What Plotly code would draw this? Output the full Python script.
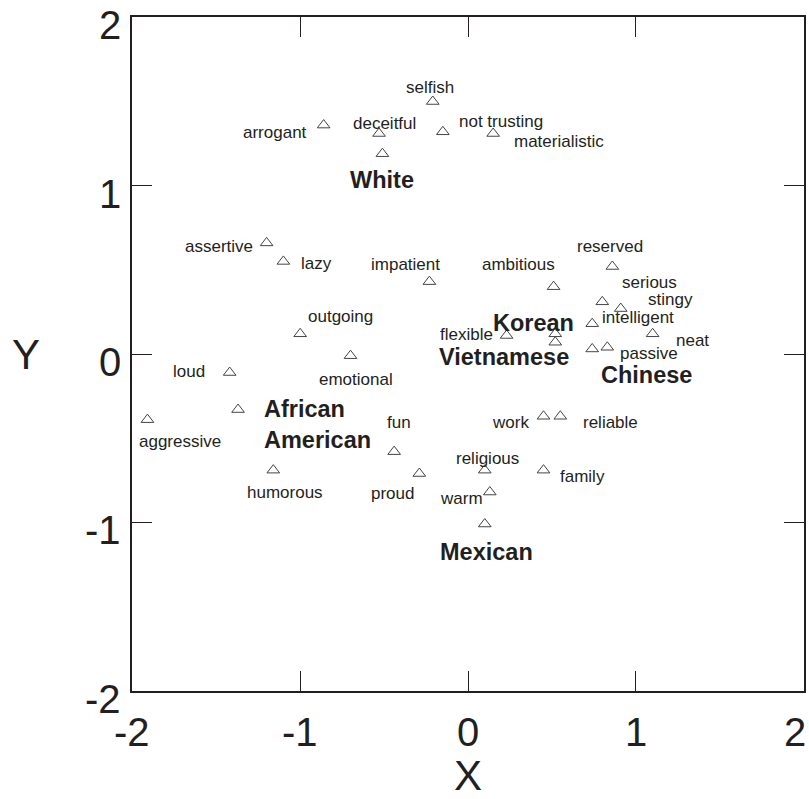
import plotly.graph_objects as go

# Stereotype traits (regular labels)
trait_names = ["selfish", "arrogant", "deceitful", "not trusting", "materialistic",
               "assertive", "lazy", "impatient", "ambitious", "reserved",
               "serious", "stingy", "intelligent", "neat", "passive", "flexible",
               "outgoing", "emotional", "loud", "aggressive", "humorous", "fun",
               "proud", "work", "reliable", "religious", "family", "warm"]
trait_x = [-0.21, -0.86, -0.53, -0.15, 0.15,
           -1.20, -1.10, -0.23, 0.51, 0.86,
           0.80, 0.91, 0.74, 1.10, 0.83, 0.23,
           -1.00, -0.70, -1.42, -1.91, -1.16, -0.44,
           -0.29, 0.45, 0.55, 0.10, 0.45, 0.13]
trait_y = [1.50, 1.36, 1.31, 1.32, 1.31,
           0.66, 0.55, 0.43, 0.40, 0.52,
           0.31, 0.27, 0.18, 0.12, 0.04, 0.11,
           0.12, -0.01, -0.11, -0.39, -0.69, -0.58,
           -0.71, -0.37, -0.37, -0.69, -0.69, -0.82]

# Ethnic groups (bold labels)
group_names = ["White", "Korean", "Vietnamese", "Chinese", "African<br>American", "Mexican"]
group_x = [-0.51, 0.52, 0.52, 0.74, -1.37, 0.10]
group_y = [1.19, 0.12, 0.07, 0.03, -0.33, -1.01]

x_ticks = [-2, -1, 0, 1, 2]
y_ticks = [-2, -1, 0, 1, 2]
x_tick_labels = ["-2", "-1", "0", "1", "2"]
y_tick_labels = ["-2", "-1", "0", "1", "2"]

# label placement: (xanchor, dx px, dy px downward)
label_pos = {
    "selfish": ("center", -3, -14), "arrogant": ("right", -15, 7),
    "deceitful": ("center", 5, -10), "not trusting": ("left", 14, -10),
    "materialistic": ("left", 19, 8), "assertive": ("right", -12, 4),
    "lazy": ("left", 16, 2), "impatient": ("center", -24, -17),
    "ambitious": ("center", -35, -22), "reserved": ("center", -2, -20),
    "serious": ("left", 18, -19), "stingy": ("left", 25, -9),
    "intelligent": ("left", 8, -6), "neat": ("left", 21, 7),
    "passive": ("left", 11, 6), "flexible": ("right", -12, -1),
    "outgoing": ("left", 6, -17), "emotional": ("center", 5, 24),
    "loud": ("right", -23, -1), "aggressive": ("left", -10, 22),
    "humorous": ("center", 12, 22), "fun": ("center", 5, -29),
    "proud": ("center", -27, 20), "work": ("right", -13, 6),
    "reliable": ("left", 21, 6), "religious": ("center", 3, -12),
    "family": ("left", 14, 6), "warm": ("right", -5, 6),
    "White": ("center", 0, 26), "Korean": ("center", -22, -11),
    "Vietnamese": ("right", 16, 15), "Chinese": ("left", 7, 26),
    "African<br>American": ("left", 24, 15), "Mexican": ("center", 2, 28),
}

FONT = "Liberation Sans, Arial, Helvetica, sans-serif"
INK = "#231f20"
TICKFONT = dict(family=FONT, size=40, color=INK)

fig = go.Figure()
fig.add_trace(go.Scatter(
    x=trait_x + group_x, y=trait_y + group_y, mode="markers",
    marker=dict(symbol="triangle-up-open", size=11, color="#444",
                line=dict(width=1, color="#444")),
    hoverinfo="skip", showlegend=False))

annotations = []
for name, x, y in zip(trait_names, trait_x, trait_y):
    xa, dx, dy = label_pos[name]
    annotations.append(dict(x=x, y=y, text=name, showarrow=False, xanchor=xa,
                            yanchor="middle", xshift=dx, yshift=-dy,
                            font=dict(family=FONT, size=17, color=INK)))
for name, x, y in zip(group_names, group_x, group_y):
    xa, dx, dy = label_pos[name]
    annotations.append(dict(x=x, y=y, text="<b>" + name + "</b>", showarrow=False,
                            xanchor=xa, align="left", yanchor="middle",
                            xshift=dx, yshift=-dy,
                            font=dict(family=FONT, size=23.5, color=INK)))

# tick labels (placed via the axes so the edge labels stay visible)
for i, (v, t) in enumerate(zip(x_ticks, x_tick_labels)):
    last = i == len(x_ticks) - 1
    annotations.append(dict(x=v, y=0, xref="x", yref="paper", text=t, showarrow=False,
                            xanchor="right" if last else "center", yanchor="middle",
                            xshift=3 if last else 0, yshift=-41, height=32,
                            borderpad=0, font=TICKFONT))
for v, t in zip(y_ticks, y_tick_labels):
    annotations.append(dict(x=0, y=v, xref="paper", yref="y", text=t, showarrow=False,
                            xanchor="right", yanchor="middle", xshift=-10, yshift=-8,
                            height=32, borderpad=0, font=TICKFONT))

# axis titles (upright, as in the reference)
annotations.append(dict(x=0, y=0.5, xref="paper", yref="paper", text="Y",
                        showarrow=False, xanchor="center", yanchor="middle",
                        xshift=-106, height=34, borderpad=0,
                        font=dict(family=FONT, size=42, color=INK)))
annotations.append(dict(x=0.5, y=0, xref="paper", yref="paper", text="X",
                        showarrow=False, xanchor="center", yanchor="middle",
                        yshift=-84, height=34, borderpad=0,
                        font=dict(family=FONT, size=42, color=INK)))

axis_common = dict(showgrid=False, zeroline=False, showline=True, linecolor=INK,
                   linewidth=1.5, mirror="ticks", ticks="inside", ticklen=20,
                   tickwidth=1.2, tickcolor=INK, range=[-2.002, 2.002],
                   showticklabels=False, automargin=False)

fig.update_layout(
    width=809, height=799,
    margin=dict(l=132, r=5, t=17, b=108),
    plot_bgcolor="white", paper_bgcolor="white",
    annotations=annotations,
    xaxis=dict(**axis_common, tickvals=x_ticks),
    yaxis=dict(**axis_common, tickvals=y_ticks),
)

fig.write_html("out.html",
               config={"displayModeBar": False},
               post_script="document.body.style.margin='0';"
                           "document.body.style.overflow='hidden';")
